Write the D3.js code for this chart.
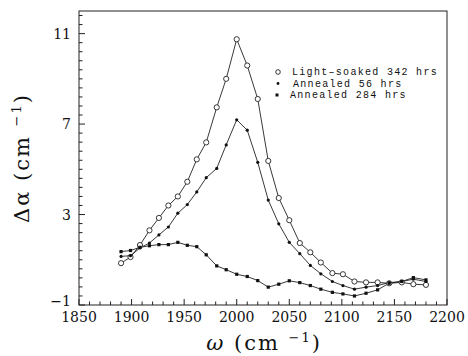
<!DOCTYPE html>
<html>
<head>
<meta charset="utf-8">
<script src="https://cdn.jsdelivr.net/npm/d3@7"></script>
<style>
  body { margin: 0; background: #fff; }
  svg { display: block; }
</style>
</head>
<body>
<div id="chart"></div>
<script>
// wavenumbers (cm^-1) of the measured points
const omega = [1890, 1899, 1908, 1917, 1926, 1935, 1944, 1953, 1962, 1971,
               1981, 1990, 2000, 2010, 2020, 2030, 2040, 2050, 2060, 2070,
               2080, 2091, 2101, 2112, 2123, 2134, 2145, 2157, 2168, 2180];

const lightSoaked342 = [0.85, 1.12, 1.65, 2.30, 2.85, 3.40, 3.80, 4.45, 5.44, 6.19,
                        7.74, 9.00, 10.75, 9.59, 8.11, 5.37, 3.73, 2.75, 1.74, 1.33,
                        0.88, 0.41, 0.36, 0.04, 0.00, 0.00, -0.04, 0.00, -0.08, -0.11];

const annealed56 = [1.15, 1.18, 1.52, 1.74, 2.10, 2.45, 3.06, 3.44, 4.00, 4.63,
                    5.04, 6.08, 7.19, 6.73, 5.31, 3.64, 2.59, 1.77, 1.27, 0.75,
                    0.38, 0.04, -0.14, -0.30, -0.21, -0.14, -0.01, 0.04, 0.14, 0.04];

const annealed284 = [1.36, 1.41, 1.55, 1.62, 1.67, 1.67, 1.77, 1.64, 1.58, 1.22,
                     0.73, 0.56, 0.36, 0.26, 0.08, -0.21, -0.08, 0.07, -0.01, -0.14,
                     -0.30, -0.44, -0.51, -0.60, -0.48, -0.33, -0.04, 0.04, 0.21, 0.11];

const xTickLabels = [1850, 1900, 1950, 2000, 2050, 2100, 2150, 2200];
const yTickLabels = [-1, 3, 7, 11];
const legendLabels = ["Light\u2013soaked 342 hrs", "Annealed 56 hrs", "Annealed 284 hrs"];

const serif = "'DejaVu Serif', 'Liberation Serif', serif";
const mono = "'Liberation Mono', 'DejaVu Sans Mono', monospace";

const width = 468, height = 356;
const margin = {left: 79, right: 21, top: 11, bottom: 51};

const svg = d3.select("#chart").append("svg")
    .attr("width", width)
    .attr("height", height);

const x = d3.scaleLinear().domain([1850, 2200]).range([margin.left, width - margin.right]);
const y = d3.scaleLinear().domain([-1, 12]).range([height - margin.bottom, margin.top]);

// frame
svg.append("rect")
    .attr("x", x(1850)).attr("y", y(12))
    .attr("width", x(2200) - x(1850)).attr("height", y(-1) - y(12))
    .attr("fill", "none").attr("stroke", "#222").attr("stroke-width", 1);

// x ticks, pointing inward
const xMinor = d3.range(1850, 2201, 10);
svg.append("g").selectAll("line").data(xMinor).enter().append("line")
    .attr("x1", d => x(d)).attr("x2", d => x(d))
    .attr("y1", y(-1)).attr("y2", d => y(-1) - (d % 50 === 0 ? 6 : 3.5))
    .attr("stroke", "#222");

svg.append("g").selectAll("text").data(xTickLabels).enter().append("text")
    .attr("font-family", serif).attr("font-size", 14)
    .attr("x", d => x(d)).attr("y", y(-1) + 17)
    .attr("text-anchor", "middle")
    .attr("fill", "#111")
    .text(d => d);

// y ticks
const yMinor = d3.range(0, 33).map(i => -1 + i * 0.4);
svg.append("g").selectAll("line").data(yMinor).enter().append("line")
    .attr("x1", x(1850)).attr("x2", (d, i) => x(1850) + (i % 10 === 0 ? 6 : 3.5))
    .attr("y1", d => y(d)).attr("y2", d => y(d))
    .attr("stroke", "#222");

svg.append("g").selectAll("text").data(yTickLabels).enter().append("text")
    .attr("font-family", serif).attr("font-size", 14)
    .attr("x", x(1850) - 8).attr("y", d => y(d) + (d < 0 ? 1 : 5))
    .attr("text-anchor", "end")
    .attr("fill", "#111")
    .text(d => d < 0 ? "\u2212" + Math.abs(d) : d);

// axis titles
const yTitle = svg.append("text")
    .attr("font-family", serif).attr("font-size", 21)
    .attr("letter-spacing", 2)
    .attr("fill", "#111")
    .attr("transform", "translate(29,158) rotate(-90)")
    .attr("text-anchor", "middle");
yTitle.append("tspan").text("\u0394\u03b1  (cm ");
yTitle.append("tspan").attr("dy", -8).attr("font-size", 13).text("\u22121");
yTitle.append("tspan").attr("dy", 8).text(")");

const xTitle = svg.append("text")
    .attr("font-family", serif).attr("font-size", 21)
    .attr("letter-spacing", 2)
    .attr("fill", "#111")
    .attr("x", 264).attr("y", 350)
    .attr("text-anchor", "middle");
xTitle.append("tspan").attr("font-style", "italic").text("\u03c9");
xTitle.append("tspan").text("  (cm ");
xTitle.append("tspan").attr("dy", -8).attr("font-size", 13).text("\u22121");
xTitle.append("tspan").attr("dy", 8).text(")");

// series
const line = d3.line().x(d => x(d[0])).y(d => y(d[1]));
const series = [lightSoaked342, annealed56, annealed284].map(vals => omega.map((w, i) => [w, vals[i]]));

series.forEach(pts => {
    svg.append("path").datum(pts)
        .attr("d", line)
        .attr("fill", "none")
        .attr("stroke", "#222")
        .attr("stroke-width", 0.9);
});

// markers
svg.append("g").selectAll("circle").data(series[0]).enter().append("circle")
    .attr("cx", d => x(d[0])).attr("cy", d => y(d[1])).attr("r", 2.6)
    .attr("fill", "#fff").attr("stroke", "#222").attr("stroke-width", 0.9);

svg.append("g").selectAll("circle").data(series[1]).enter().append("circle")
    .attr("cx", d => x(d[0])).attr("cy", d => y(d[1])).attr("r", 1.6)
    .attr("fill", "#111");

svg.append("g").selectAll("rect").data(series[2]).enter().append("rect")
    .attr("x", d => x(d[0]) - 1.6).attr("y", d => y(d[1]) - 1.6)
    .attr("width", 3.2).attr("height", 3.2)
    .attr("fill", "#111");

// legend
const leg = svg.append("g");
const legY = [71, 82.5, 94];
const legTextX = [292, 293, 290];
leg.append("circle").attr("cx", 278).attr("cy", legY[0] + 1).attr("r", 2.3)
    .attr("fill", "#fff").attr("stroke", "#222").attr("stroke-width", 0.9);
leg.append("circle").attr("cx", 278).attr("cy", legY[1] + 1).attr("r", 1.4).attr("fill", "#111");
leg.append("rect").attr("x", 275.5).attr("y", legY[2] - 0.5).attr("width", 3).attr("height", 3).attr("fill", "#111");
leg.selectAll("text").data(legendLabels).enter().append("text")
    .attr("font-family", mono).attr("font-size", 10)
    .attr("letter-spacing", 1.3)
    .attr("fill", "#111")
    .attr("x", (d, i) => legTextX[i]).attr("y", (d, i) => legY[i] + 4)
    .text(d => d);
</script>
</body>
</html>
